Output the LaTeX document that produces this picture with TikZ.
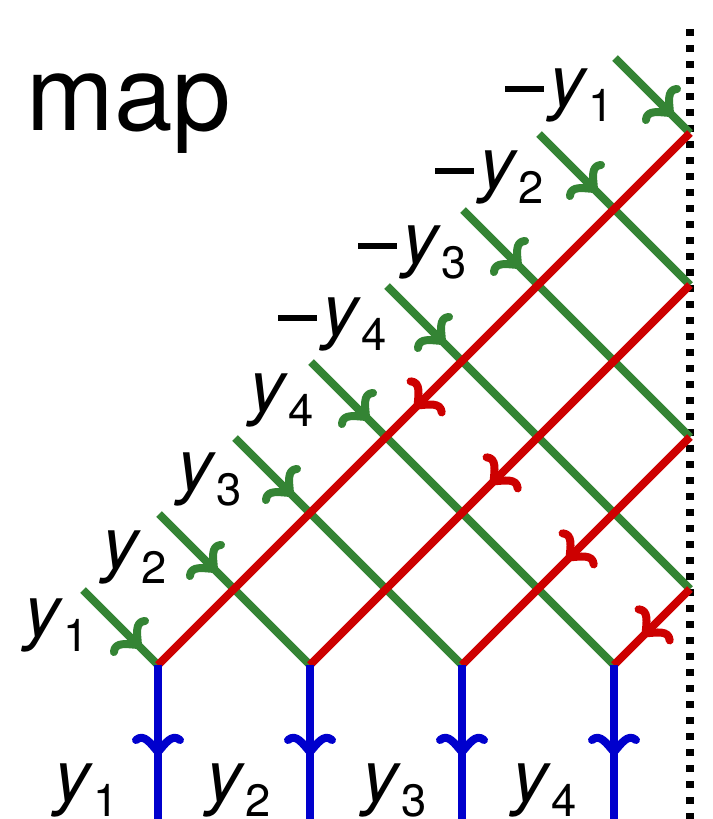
\documentclass[tikz,border=0pt]{standalone}
\usepackage{fontspec}
\setmainfont{TeX Gyre Heros}
\usetikzlibrary{decorations.markings}
\definecolor{gcol}{RGB}{52,132,52}
\definecolor{rcol}{RGB}{205,0,0}
\definecolor{bcol}{RGB}{0,0,205}
\newcommand\yl[1]{\textit{y}\raisebox{-11.25pt}{\fontsize{34}{34}\selectfont #1}}
\newcommand\mns{\raisebox{10.4pt}{\rule{29pt}{4.3pt}}\hspace{4.5pt}}
\tikzset{
  wire/.style={line width=6pt},
  headstyle/.style={line width=6pt, line cap=round, line join=round},
  gwire/.style={wire, draw=gcol, postaction={decorate},
    decoration={markings, mark=at position 58.3pt with {\draw[headstyle, gcol] (-12,22) .. controls (-19,14) and (-8,7) .. (0,0) .. controls (-8,-7) and (-19,-14) .. (-12,-22);}}},
  rwire/.style={wire, draw=rcol, postaction={decorate},
    decoration={markings, mark=at position 0.5 with {\draw[headstyle, rcol] (-3,22) .. controls (-10,14) and (1,7) .. (9,0) .. controls (1,-7) and (-10,-14) .. (-3,-22);}}},
  bwire/.style={line width=6.3pt, draw=bcol, postaction={decorate},
    decoration={markings, mark=at position 65.25pt with {\draw[headstyle, bcol] (-12,22) .. controls (-19,14) and (-8,7) .. (0,0) .. controls (-8,-7) and (-19,-14) .. (-12,-22);}}},
  lbl/.style={inner sep=0pt, anchor=base west, font=\fontsize{54}{54}\selectfont},
}
\begin{document}
\begin{tikzpicture}[x=0.75pt, y=-0.75pt]
\useasboundingbox (0,0) rectangle (713,819);
% bottom vertices
\coordinate (B1) at (158,665);
\coordinate (B2) at (310,665);
\coordinate (B3) at (462,665);
\coordinate (B4) at (614,665);
\coordinate (E1) at (158,819);
\coordinate (E2) at (310,819);
\coordinate (E3) at (462,819);
\coordinate (E4) at (614,819);
% wall points
\coordinate (R1) at (690,133);
\coordinate (R2) at (690,285);
\coordinate (R3) at (690,437);
\coordinate (R4) at (690,589);
\coordinate (Dt) at (690,29);
\coordinate (Db) at (690,819);
% green starts
\coordinate (G1) at (83,590);
\coordinate (G2) at (159,514);
\coordinate (G3) at (235,438);
\coordinate (G4) at (311,362);
\coordinate (G5) at (387,286);
\coordinate (G6) at (463,210);
\coordinate (G7) at (539,134);
\coordinate (G8) at (615,58);
% dotted wall
\draw[line width=5.3pt, dash pattern=on 5.3pt off 6.7pt] (Dt) -- (Db);
% green
\draw[gwire] (G1) -- (B1);
\draw[gwire] (G2) -- (B2);
\draw[gwire] (G3) -- (B3);
\draw[gwire] (G4) -- (B4);
\draw[gwire] (G5) -- (R4);
\draw[gwire] (G6) -- (R3);
\draw[gwire] (G7) -- (R2);
\draw[gwire] (G8) -- (R1);
% red
\draw[rwire] (R1) -- (B1);
\draw[rwire] (R2) -- (B2);
\draw[rwire] (R3) -- (B3);
\draw[rwire] (R4) -- (B4);
% blue
\draw[bwire] (B1) -- (E1);
\draw[bwire] (B2) -- (E2);
\draw[bwire] (B3) -- (E3);
\draw[bwire] (B4) -- (E4);
% labels
\node[lbl, font=\fontsize{79}{79}\selectfont] (title) at (26,130) {map};
\node[lbl] (l1) at (24,636) {\yl{1}};
\node[lbl] (l2) at (102,568) {\yl{2}};
\node[lbl] (l3) at (177,490) {\yl{3}};
\node[lbl] (l4) at (249,411) {\yl{4}};
\node[lbl] (m4) at (278,335) {\mns\yl{4}};
\node[lbl] (m3) at (358,263) {\mns\yl{3}};
\node[lbl] (m2) at (435,188) {\mns\yl{2}};
\node[lbl] (m1) at (505,106) {\mns\yl{1}};
\node[lbl] (b1) at (54,801) {\yl{1}};
\node[lbl] (b2) at (206,801) {\yl{2}};
\node[lbl] (b3) at (362,801) {\yl{3}};
\node[lbl] (b4) at (512,801) {\yl{4}};
\end{tikzpicture}
\end{document}
